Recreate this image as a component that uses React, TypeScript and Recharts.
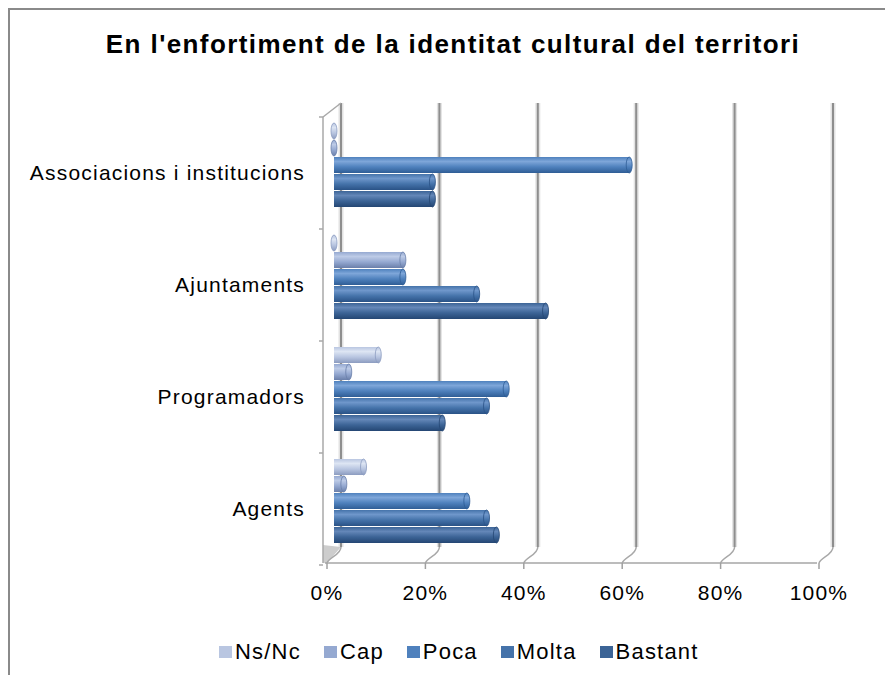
import { Bar, BarChart, CartesianGrid, Legend, XAxis, YAxis } from 'recharts'

const categories = ['Associacions i institucions', 'Ajuntaments', 'Programadors', 'Agents']
const seriesNames = ['Ns/Nc', 'Cap', 'Poca', 'Molta', 'Bastant']

const nsNc = [0, 0, 9, 6]
const cap = [0, 14, 3, 2]
const poca = [60, 14, 35, 27]
const molta = [20, 29, 31, 31]
const bastant = [20, 43, 22, 33]

const xTicks = [0, 20, 40, 60, 80, 100]

const seriesValues = [nsNc, cap, poca, molta, bastant]

const baseColors = ['#B9C6E1', '#95A9D1', '#4F81BD', '#4573AA', '#3C6496']
const lightColors = ['#DDE5F3', '#BDCBE7', '#7EA6D9', '#6F97CB', '#6487B8']
const darkColors = ['#8C9CC0', '#6A7FAA', '#2F5D95', '#2A5286', '#244673']

const font = '"Liberation Sans", Arial, sans-serif'

const chartData = categories.map((name, i) => {
  const row: Record<string, string | number> = { name }
  seriesValues.forEach((values, s) => {
    row[`s${s}`] = values[i]
  })
  return row
})

const makeBarShape = (s: number) => (props: any) => {
  const { x, y, width, height } = props
  const top = y - 8
  const w = Math.max(width || 0, 0)
  return (
    <g>
      <rect x={x} y={top} width={w} height={height} fill={`url(#bar${s})`} />
      <ellipse
        cx={x + w}
        cy={top + height / 2}
        rx={3}
        ry={height / 2}
        fill={`url(#bar${s})`}
        stroke={darkColors[s]}
        strokeWidth={0.8}
      />
    </g>
  )
}

// back wall lines with a small perspective foot, plus the left wall
const renderWallLine = (props: any) => {
  const { x1, y1, y2, index } = props
  const back = x1 + 7
  const front = x1 - 7
  const band = (y2 - y1) / categories.length
  return (
    <g key={`wall-${index}`}>
      {index === 0 && (
        <polygon
          points={`${x1 - 11},${y2 - 20} ${back},${y2 - 18} ${front},${y2 - 2} ${x1 - 11},${y2 - 2}`}
          fill="#cdcdcd"
        />
      )}
      <line x1={back} x2={back} y1={y1 - 14} y2={y2 - 18} stroke="#e2e2e2" strokeWidth={5} />
      <line x1={back} x2={back} y1={y1 - 14} y2={y2 - 18} stroke="#8e8e8e" strokeWidth={2} />
      <path
        d={`M${back},${y2 - 18} C${back},${y2 - 10} ${front + 2},${y2 - 8} ${front},${y2 - 2}`}
        fill="none"
        stroke="#a8a8a8"
        strokeWidth={1.5}
      />
      {index === 0 && (
        <g>
          <line x1={x1 - 11} x2={x1 - 11} y1={y1} y2={y2 - 2} stroke="#a8a8a8" strokeWidth={1.5} />
          <line x1={x1 - 11} x2={back} y1={y1} y2={y1 - 14} stroke="#a8a8a8" strokeWidth={1.5} />
          {Array.from({ length: categories.length + 1 }, (_, k) => (
            <line
              key={k}
              x1={x1 - 15}
              x2={x1 - 11}
              y1={y1 + k * band}
              y2={y1 + k * band}
              stroke="#a8a8a8"
              strokeWidth={1.5}
            />
          ))}
        </g>
      )}
    </g>
  )
}

const CategoryTick = (props: any) => {
  const { x, y, payload } = props
  return (
    <text
      x={x}
      y={y}
      dy="0.355em"
      textAnchor="end"
      fontFamily={font}
      fontSize={21}
      style={{ letterSpacing: '1.2px' }}
      fill="#000"
    >
      {payload.value}
    </text>
  )
}

const PercentTick = (props: any) => {
  const { x, y, payload } = props
  return (
    <g>
      <line x1={x - 7} x2={x - 7} y1={y - 2} y2={y + 4} stroke="#a0a0a0" strokeWidth={1.5} />
      <text
        x={x - 7}
        y={y + 28}
        dy="0.355em"
        textAnchor="middle"
        fontFamily={font}
        fontSize={21}
        style={{ letterSpacing: '1.2px' }}
        fill="#000"
      >
        {`${payload.value}%`}
      </text>
    </g>
  )
}

const LegendRow = () => (
  <div
    style={{
      display: 'flex',
      alignItems: 'center',
      height: 24,
      fontFamily: font,
      fontSize: 22,
      letterSpacing: 1.2,
      color: '#000',
      whiteSpace: 'nowrap',
    }}
  >
    {seriesNames.map((name, i) => (
      <span key={name} style={{ display: 'flex', alignItems: 'center', marginRight: 23 }}>
        <span
          style={{ width: 13, height: 12, background: baseColors[i], marginRight: 3, display: 'inline-block' }}
        />
        {name}
      </span>
    ))}
  </div>
)

export default function App() {
  return (
    <div
      style={{
        position: 'relative',
        width: 877,
        height: 667,
        boxSizing: 'border-box',
        borderLeft: '2px solid #8a8a8a',
        borderTop: '2px solid #8a8a8a',
        overflow: 'hidden',
        background: '#fff',
      }}
    >
      <div
        style={{
          position: 'absolute',
          top: 21,
          left: 0,
          width: 886,
          textAlign: 'center',
          fontFamily: font,
          fontWeight: 'bold',
          fontSize: 26,
          lineHeight: '26px',
          letterSpacing: 1.4,
          color: '#000',
          whiteSpace: 'nowrap',
        }}
      >
        En l'enfortiment de la identitat cultural del territori
      </div>
      <div style={{ position: 'absolute', top: 0, left: 0 }}>
        <BarChart
          width={875}
          height={665}
          data={chartData}
          layout="vertical"
          barSize={16}
          barGap={1}
          margin={{ top: 107, right: 59, bottom: 80, left: 0 }}
        >
          <defs>
            {baseColors.map((c, s) => (
              <linearGradient key={s} id={`bar${s}`} x1="0" y1="0" x2="0" y2="1">
                <stop offset="0%" stopColor={c} />
                <stop offset="28%" stopColor={lightColors[s]} />
                <stop offset="62%" stopColor={c} />
                <stop offset="100%" stopColor={darkColors[s]} />
              </linearGradient>
            ))}
          </defs>
          <CartesianGrid horizontal={false} vertical={renderWallLine} />
          <XAxis
            type="number"
            domain={[0, 100]}
            ticks={xTicks}
            height={30}
            tickSize={0}
            tickMargin={0}
            tickLine={false}
            axisLine={{ stroke: '#a6a6a6', strokeWidth: 1.5, transform: 'translate(-9,-2)' } as any}
            tick={<PercentTick />}
          />
          <YAxis
            type="category"
            dataKey="name"
            width={324}
            tickSize={0}
            tickMargin={29}
            tickLine={false}
            axisLine={false}
            tick={<CategoryTick />}
          />
          <Legend
            verticalAlign="middle"
            layout="horizontal"
            wrapperStyle={{ top: 630, left: 209, width: 'auto' }}
            content={<LegendRow />}
          />
          {seriesNames.map((name, s) => (
            <Bar
              key={name}
              dataKey={`s${s}`}
              name={name}
              fill={baseColors[s]}
              shape={makeBarShape(s)}
              isAnimationActive={false}
            />
          ))}
        </BarChart>
      </div>
    </div>
  )
}
